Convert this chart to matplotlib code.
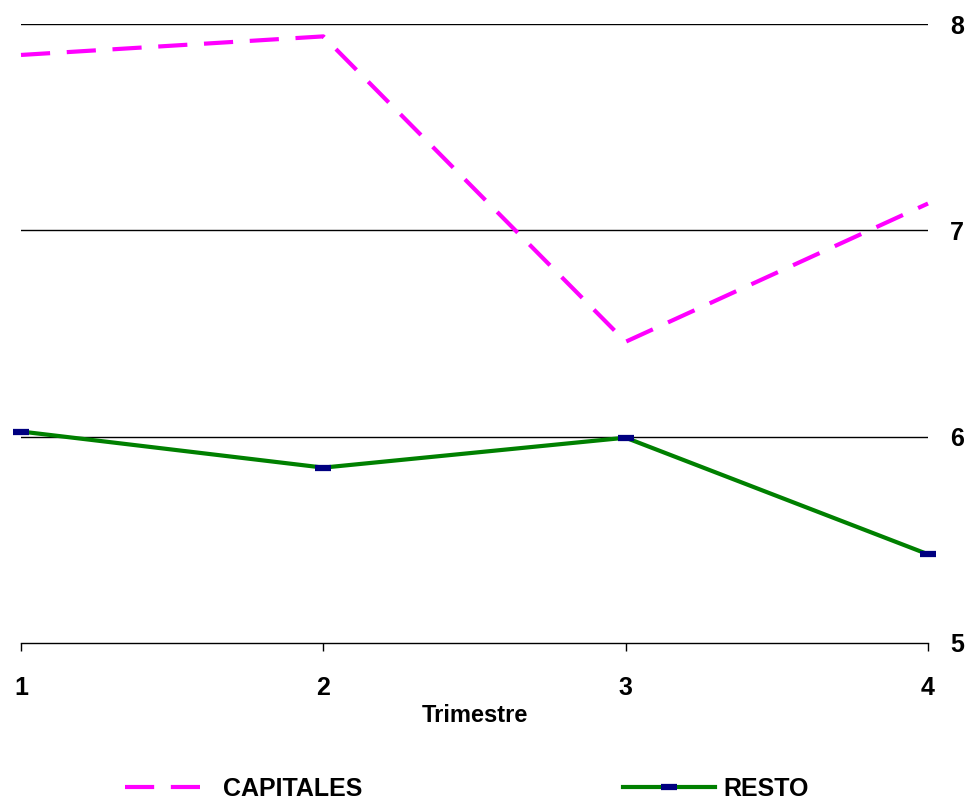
import matplotlib
matplotlib.use("Agg")
import matplotlib.pyplot as plt

trimestres = [1, 2, 3, 4]
capitales = [7.85, 7.94, 6.46, 7.13]
resto = [6.025, 5.85, 5.995, 5.43]
yticks = [5, 6, 7, 8]

plt.rcParams['font.family'] = ['Liberation Sans', 'DejaVu Sans']
plt.rcParams['font.weight'] = 'bold'

fig = plt.figure(figsize=(9.78, 8.02), dpi=100)
ax = fig.add_axes([21/978, 1-643/802, (928-21)/978, (643-24)/802])

for y in yticks[1:]:
    ax.axhline(y, color='black', lw=1.0, zorder=1)

l1, = ax.plot(trimestres, capitales, color='#FF00FF', lw=3.0, dashes=(7, 4),
              label='CAPITALES', zorder=3, clip_on=False)
l2, = ax.plot(trimestres, resto, color='#008000', lw=3.0, label='RESTO',
              marker='_', markersize=11, markeredgewidth=4.5,
              markeredgecolor='#000080', markerfacecolor='#000080', zorder=4,
              clip_on=False)

ax.set_xlim(1, 4)
ax.set_ylim(5, 8)
ax.set_xticks(trimestres)
ax.set_xticklabels([str(t) for t in trimestres], fontsize=18, fontweight='bold')
ax.set_yticks(yticks)
ax.set_yticklabels([str(t) for t in yticks], fontsize=18, fontweight='bold')
ax.yaxis.tick_right()
ax.tick_params(axis='y', length=0, pad=16)
ax.tick_params(axis='x', direction='out', length=6, width=1, pad=18, colors='black')

for s in ['top', 'left', 'right']:
    ax.spines[s].set_visible(False)
ax.spines['bottom'].set_linewidth(1.0)

ax.set_xlabel('Trimestre', fontsize=17, fontweight='bold', labelpad=3)

yleg = 1 - 789/802
leg1 = fig.legend(handles=[l1], loc='center left', bbox_to_anchor=(125/978, yleg),
                  frameon=False, fontsize=18, handlelength=3.3, handletextpad=0.6,
                  borderpad=0, borderaxespad=0)
leg2 = fig.legend(handles=[l2], loc='center left', bbox_to_anchor=(623/978, yleg),
                  frameon=False, fontsize=18, handlelength=3.7, handletextpad=0.3,
                  borderpad=0, borderaxespad=0)
for leg in (leg1, leg2):
    for t in leg.get_texts():
        t.set_fontweight('bold')

fig.savefig('out.png', dpi=100)
